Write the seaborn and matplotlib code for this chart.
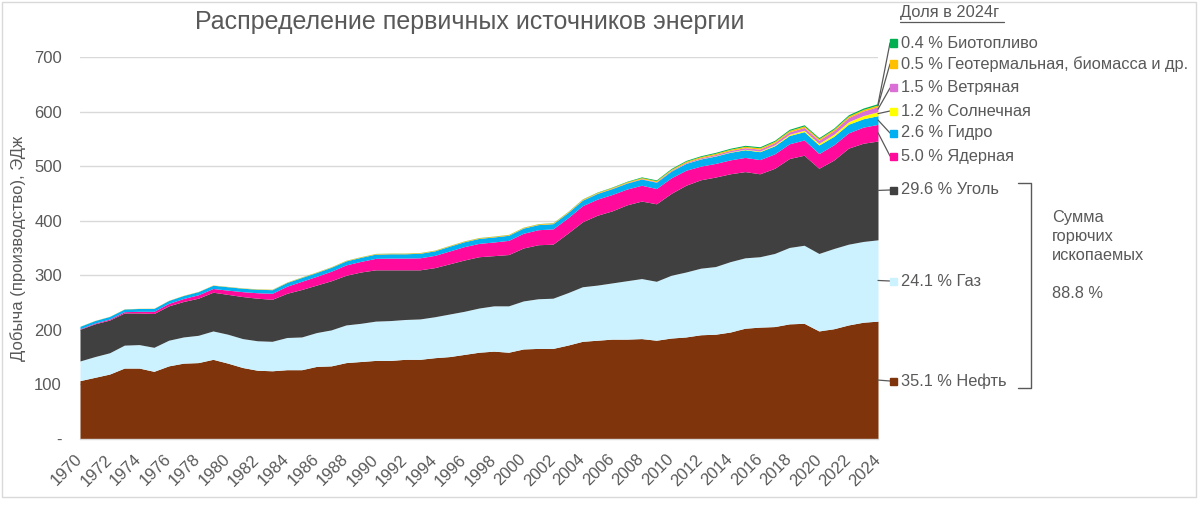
import numpy as np
import pandas as pd
import matplotlib
matplotlib.use("Agg")
import matplotlib.pyplot as plt
import matplotlib.patches as mpatches
import matplotlib.lines as mlines
import seaborn as sns

# --- data (EJ) ---
years = list(range(1970, 2025))

oil = [107, 113, 119, 130, 130, 124, 134, 139, 140, 146,
       139, 131, 126, 125, 127, 127, 133, 134, 140, 142,
       144, 144, 146, 146, 149, 151, 155, 159, 161, 159,
       165, 166, 166, 172, 179, 181, 183, 183, 184, 181,
       185, 187, 191, 192, 196, 203, 205, 206, 211, 212,
       198, 202, 209, 214, 216]

gas = [36, 38, 39, 42, 43, 44, 47, 48, 50, 52,
       53, 53, 54, 54, 59, 60, 62, 66, 69, 70,
       72, 73, 73, 74, 75, 78, 79, 81, 83, 85,
       88, 91, 92, 96, 100, 101, 103, 107, 110, 108,
       115, 119, 122, 124, 129, 129, 129, 134, 140, 143,
       142, 147, 148, 148, 149]

coal = [58, 60, 60, 59, 58, 62, 63, 65, 68, 71,
        73, 77, 78, 77, 81, 87, 87, 90, 91, 94,
        94, 93, 91, 90, 90, 92, 94, 94, 92, 94,
        97, 99, 99, 109, 119, 128, 132, 139, 142, 142,
        150, 159, 162, 164, 161, 158, 152, 156, 163, 165,
        156, 162, 176, 180, 181]

nuclear = [1.0, 1.3, 1.8, 2.3, 3.0, 4.0, 4.5, 5.5, 6.3, 6.8,
           7.8, 9.0, 10.0, 11.0, 13.0, 15.0, 16.0, 17.5, 19.0, 19.5,
           21.0, 21.5, 21.5, 22.0, 22.5, 23.5, 24.5, 24.5, 25.0, 26.0,
           27.0, 27.5, 28.0, 28.0, 29.5, 29.5, 30.0, 29.0, 29.0, 28.0,
           28.5, 27.5, 25.0, 25.0, 25.5, 26.0, 26.0, 26.5, 27.0, 28.0,
           27.0, 28.0, 28.0, 29.5, 30.5]

hydro = [4.5, 4.7, 4.8, 4.9, 5.2, 5.3, 5.4, 5.5, 5.8, 6.0,
         6.2, 6.3, 6.4, 6.6, 6.8, 7.0, 7.1, 7.2, 7.4, 7.4,
         7.8, 7.9, 7.9, 8.3, 8.3, 8.8, 9.0, 9.1, 9.2, 9.3,
         9.5, 9.3, 9.5, 9.5, 10.1, 10.5, 10.8, 10.9, 11.4, 11.5,
         12.3, 12.5, 13.1, 13.5, 13.9, 14.0, 14.5, 14.7, 15.1, 15.2,
         15.7, 15.5, 15.8, 15.3, 16.0]

solar = [0] * 30 + [0.01, 0.01, 0.01, 0.02, 0.02, 0.02, 0.03, 0.03, 0.05, 0.07,
                    0.12, 0.23, 0.36, 0.51, 0.72, 0.93, 1.2, 1.6, 2.1, 2.5,
                    3.0, 3.6, 4.6, 5.8, 7.4]

wind = [0] * 20 + [0.01, 0.01, 0.02, 0.02, 0.03, 0.03, 0.04, 0.05, 0.08, 0.1,
                   0.11, 0.14, 0.19, 0.23, 0.31, 0.38, 0.48, 0.62, 0.79, 0.99,
                   1.23, 1.56, 1.87, 2.27, 2.54, 2.99, 3.44, 4.06, 4.57, 5.13,
                   5.76, 6.6, 7.5, 8.4, 9.2]

geo = [0.3, 0.3, 0.3, 0.35, 0.35, 0.4, 0.4, 0.45, 0.45, 0.5,
       0.5, 0.55, 0.6, 0.65, 0.7, 0.75, 0.8, 0.85, 0.9, 0.95,
       1.0, 1.0, 1.05, 1.1, 1.1, 1.15, 1.2, 1.2, 1.25, 1.3,
       1.3, 1.3, 1.35, 1.4, 1.5, 1.55, 1.6, 1.7, 1.8, 1.9,
       2.0, 2.1, 2.2, 2.3, 2.4, 2.4, 2.5, 2.6, 2.7, 2.8,
       2.8, 2.9, 3.0, 3.0, 3.1]

bio = [0] * 10 + [0.1, 0.1, 0.15, 0.2, 0.2, 0.25, 0.25, 0.25, 0.25, 0.25,
                  0.25, 0.25, 0.25, 0.25, 0.25, 0.25, 0.3, 0.3, 0.3, 0.3,
                  0.3, 0.35, 0.4, 0.5, 0.55, 0.65, 0.8, 1.0, 1.3, 1.4,
                  1.6, 1.6, 1.6, 1.7, 1.8, 1.85, 1.9, 1.95, 2.1, 2.2,
                  2.0, 2.1, 2.3, 2.5, 2.5]

series_names = ["Нефть", "Газ", "Уголь", "Ядерная", "Гидро", "Солнечная",
                "Ветряная", "Геотермальная, биомасса и др.", "Биотопливо"]
shares_2024 = ["35.1", "24.1", "29.6", "5.0", "2.6", "1.2", "1.5", "0.5", "0.4"]
fossil_share = "88.8"
year_ticks = years[::2]

colors = ["#7F340C", "#CCF2FF", "#404040", "#FF0A9B", "#00B0F0",
          "#FFFF00", "#DA70D6", "#FFC000", "#00B050"]

df = pd.DataFrame({"year": years, "Нефть": oil, "Газ": gas, "Уголь": coal,
                   "Ядерная": nuclear, "Гидро": hydro, "Солнечная": solar,
                   "Ветряная": wind, "Геотермальная, биомасса и др.": geo,
                   "Биотопливо": bio})

sns.set_theme(style="white")
plt.rcParams["font.family"] = ["Liberation Sans", "DejaVu Sans"]
grey = "#595959"
lab_fs = 11.8

W, H = 1200, 505
fig = plt.figure(figsize=(W / 100, H / 100), dpi=100)


def fx(px):
    return px / W


def fy(py):
    return 1 - py / H


ax = fig.add_axes([fx(80), fy(439), (878 - 80) / W, (439 - 57) / H])

ax.stackplot(df["year"], [df[n] for n in series_names], colors=colors,
             linewidth=0, zorder=2)

ax.set_xlim(1970, 2024)
ax.set_ylim(0, 700)
ax.set_yticks(range(0, 701, 100))
ax.set_yticklabels(["-"] + [str(v) for v in range(100, 701, 100)])
ax.set_xticks(year_ticks)
ax.set_xticklabels([str(y) for y in year_ticks], rotation=45, ha="right",
                   va="center", rotation_mode="anchor")
ax.tick_params(axis="both", length=0, labelsize=12, colors=grey)
ax.tick_params(axis="x", pad=13)
ax.tick_params(axis="y", pad=13)
ax.yaxis.grid(True, color="#d9d9d9", lw=1, zorder=0)
ax.xaxis.grid(False)
sns.despine(ax=ax, left=True, top=True, right=True)
ax.spines["bottom"].set_color("#d9d9d9")
ax.spines["bottom"].set_linewidth(1)
ax.set_facecolor("none")

fig.text(fx(470), fy(22), "Распределение первичных источников энергии",
         ha="center", va="center", fontsize=18, color=grey)
fig.text(fx(18), fy(248), "Добыча (производство), ЭДж", rotation=90,
         ha="center", va="center", fontsize=12, color=grey)

# labels on the right with leader lines
label_y = [381, 281, 190, 156, 133, 111, 88, 64, 43]
stack = np.vstack([df[n].values for n in series_names])
cum = np.cumsum(stack[:, -1])
mids = cum - stack[:, -1] / 2
for i, name in enumerate(series_names):
    ly = label_y[i]
    ax.annotate("", xy=(years[-1], mids[i]), xycoords="data",
                xytext=(fx(890), fy(ly)), textcoords="figure fraction",
                arrowprops=dict(arrowstyle="-", color=grey, lw=0.9,
                                shrinkA=0, shrinkB=0),
                annotation_clip=False)
    fig.patches.append(mpatches.Rectangle((fx(890), fy(ly + 3.5)), 7 / W, 7 / H,
                                          transform=fig.transFigure,
                                          color=colors[i], zorder=5))
    fig.text(fx(901), fy(ly), f"{shares_2024[i]} % {name}", ha="left",
             va="center", fontsize=lab_fs, color=grey)

fig.text(fx(900), fy(13), "Доля в 2024г", ha="left", va="center",
         fontsize=lab_fs, color=grey)
fig.lines.append(mlines.Line2D([fx(900), fx(1004)], [fy(22), fy(22)],
                               transform=fig.transFigure, color=grey, lw=0.9))

# bracket for fossil fuels
bx = [fx(1018), fx(1031), fx(1031), fx(1018)]
by = [fy(183), fy(183), fy(388), fy(388)]
fig.lines.append(mlines.Line2D(bx, by, transform=fig.transFigure,
                               color=grey, lw=1))
fig.text(fx(1052), fy(218), "Сумма", ha="left", va="center", fontsize=lab_fs, color=grey)
fig.text(fx(1052), fy(236), "горючих", ha="left", va="center", fontsize=lab_fs, color=grey)
fig.text(fx(1052), fy(255), "ископаемых", ha="left", va="center", fontsize=lab_fs, color=grey)
fig.text(fx(1052), fy(294), f"{fossil_share} %", ha="left", va="center",
         fontsize=lab_fs, color=grey)

# chart frame
fig.patches.append(mpatches.Rectangle((fx(1.5), fy(497)), (1196 - 1.5) / W,
                                      (497 - 1.5) / H, transform=fig.transFigure,
                                      fill=False, edgecolor="#d9d9d9", lw=1))

fig.savefig("out.png", dpi=100, facecolor="white")
